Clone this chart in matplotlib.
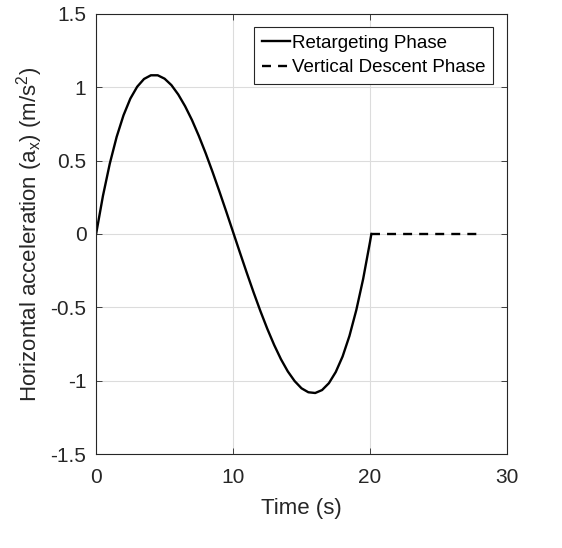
import matplotlib
matplotlib.use('Agg')
from matplotlib import pyplot as plt

plt.rcParams['font.family'] = ['Liberation Sans', 'DejaVu Sans']
plt.rcParams['mathtext.fontset'] = 'custom'
plt.rcParams['mathtext.rm'] = 'Liberation Sans'
plt.rcParams['mathtext.it'] = 'Liberation Sans'

# retargeting phase
t_retarget = [0, 0.5, 1, 1.5, 2, 2.5, 3, 3.5, 4, 4.5, 5, 5.5, 6, 6.5, 7, 7.5, 8, 8.5,
              9, 9.5, 10, 10.5, 11, 11.5, 12, 12.5, 13, 13.5, 14, 14.5, 15, 15.5,
              16, 16.5, 17, 17.5, 18, 18.5, 19, 19.5, 20, 20.1]
a_retarget = [0, 0.260, 0.480, 0.662, 0.809, 0.923, 1.004, 1.057, 1.082, 1.082,
              1.059, 1.015, 0.951, 0.871, 0.777, 0.669, 0.551, 0.424, 0.291, 0.154,
              0.014, -0.126, -0.264, -0.398, -0.526, -0.646, -0.756, -0.854, -0.937,
              -1.003, -1.052, -1.079, -1.084, -1.064, -1.017, -0.941, -0.835, -0.695,
              -0.519, -0.307, -0.055, 0]

# vertical descent phase
t_descent = [20.1, 28]
a_descent = [0, 0]

fig = plt.figure(figsize=(5.62, 5.48), dpi=100)
ax = fig.add_axes([0.171, 0.1715, 0.731, 0.803])

ax.plot(t_retarget, a_retarget, color='black', lw=1.7, label='Retargeting Phase',
        solid_joinstyle='round')
ax.plot(t_descent, a_descent, color='black', lw=1.7, linestyle=(0, (3.8, 3.0)),
        label='Vertical Descent Phase')

ax.set_xlim(0, 30)
ax.set_ylim(-1.5, 1.5)
ax.set_xticks([0, 10, 20, 30])
ax.set_yticks([-1.5, -1, -0.5, 0, 0.5, 1, 1.5])
ax.set_yticklabels(['-1.5', '-1', '-0.5', '0', '0.5', '1', '1.5'])
ax.tick_params(direction='in', labelsize=15, colors='#262626', length=4, width=0.6,
               top=True, right=True)
ax.tick_params(axis='x', pad=10)
ax.tick_params(axis='y', pad=7)
for s in ax.spines.values():
    s.set_color('#262626')
    s.set_linewidth(0.8)
ax.grid(True, color='#dcdcdc', linewidth=0.8)
ax.set_axisbelow(True)

ax.set_xlabel('Time (s)', fontsize=16, color='#262626', labelpad=8)
ax.set_ylabel(r'Horizontal acceleration (a$_{\mathrm{x}}$) (m/s$^{2}$)',
              fontsize=16, color='#262626', labelpad=4)

leg = ax.legend(loc='upper right', fontsize=13.5, frameon=True, fancybox=False,
                edgecolor='#262626', framealpha=1, handlelength=1.5,
                handletextpad=0.1, borderpad=0.4, labelspacing=0.4,
                borderaxespad=0, bbox_to_anchor=(0.966, 0.970))
leg.get_frame().set_linewidth(0.8)

fig.savefig('out.png', dpi=100)
